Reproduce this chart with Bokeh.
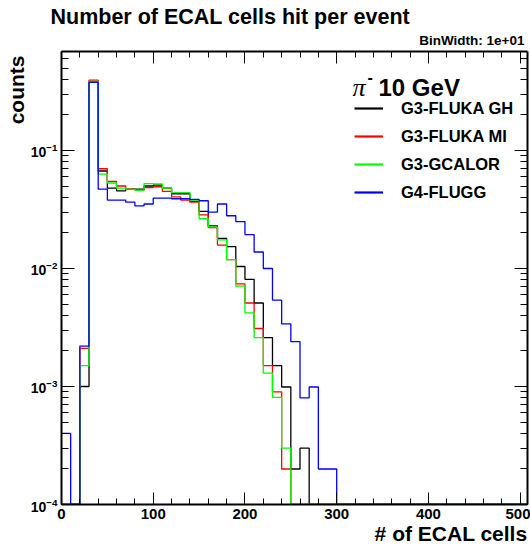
import numpy as np
from bokeh.plotting import figure
from bokeh.models import (Range1d, LinearAxis, LogAxis, SingleIntervalTicker, LogTicker,
                          Label, Legend, LegendItem, CustomJSTickFormatter, Title)
from bokeh.embed import file_html
from bokeh.resources import INLINE

# ---------------- data ----------------
bin_width = 10
bin_low = 0
n_bins = 51

g3_fluka_gh = [0, 0, 0.0010, 0.38, 0.067, 0.048, 0.0455, 0.047, 0.047, 0.050,
               0.051, 0.048, 0.043, 0.043, 0.037, 0.0305, 0.023, 0.018, 0.0153, 0.0104,
               0.0081, 0.0051, 0.0026, 0.0015, 0.00099, 0.0002, 0.0003, 0, 0, 0,
               0, 0, 0, 0, 0, 0, 0, 0, 0, 0,
               0, 0, 0, 0, 0, 0, 0, 0, 0, 0, 0]
g3_fluka_mi = [0, 0, 0.0021, 0.394, 0.070, 0.0547, 0.050, 0.0475, 0.0465, 0.0485,
               0.0493, 0.045, 0.0405, 0.038, 0.0365, 0.0285, 0.0222, 0.0158, 0.0119, 0.0074,
               0.0051, 0.0031, 0.0015, 0.0009, 0.0002, 0, 0, 0, 0, 0,
               0, 0, 0, 0, 0, 0, 0, 0, 0, 0,
               0, 0, 0, 0, 0, 0, 0, 0, 0, 0, 0]
g3_gcalor = [0, 0, 0.0015, 0.385, 0.063, 0.053, 0.048, 0.047, 0.046, 0.0524,
             0.052, 0.048, 0.044, 0.044, 0.038, 0.0264, 0.0225, 0.0175, 0.0119, 0.0071,
             0.0042, 0.0026, 0.0013, 0.00081, 0.0003, 0, 0, 0, 0, 0,
             0, 0, 0, 0, 0, 0, 0, 0, 0, 0,
             0, 0, 0, 0, 0, 0, 0, 0, 0, 0, 0]
g4_flugg = [0.0004, 0, 0.0022, 0.38, 0.047, 0.038, 0.038, 0.0365, 0.034, 0.0352,
            0.0395, 0.0395, 0.039, 0.039, 0.0385, 0.0375, 0.030, 0.0352, 0.028, 0.025,
            0.0194, 0.0138, 0.0100, 0.0054, 0.0034, 0.0024, 0.0008, 0.00099, 0.0002, 0.0002,
            0, 0, 0, 0, 0, 0, 0, 0, 0, 0,
            0, 0, 0, 0, 0, 0, 0, 0, 0, 0, 0]

series_names = ["G3-FLUKA GH", "G3-FLUKA MI", "G3-GCALOR", "G4-FLUGG"]
series_values = [g3_fluka_gh, g3_fluka_mi, g3_gcalor, g4_flugg]
series_colors = ["#000000", "#ff0000", "#00ff00", "#0000ff"]

xtick_values = [0, 100, 200, 300, 400, 500]

title_text = "Number of ECAL cells hit per event"
binwidth_text = "BinWidth: 1e+01"
x_title = "# of ECAL cells"
y_title = "counts"
beam_particle = "\u03c0"
beam_charge = "-"
beam_energy = "10 GeV"

X_MIN, X_MAX = 0, 508
Y_MIN, Y_MAX = 1e-4, 0.69

# ---------------- layout constants ----------------
W, H = 530, 553
FL, FR, FT, FB = 61, 527, 51, 504   # frame edges in canvas pixels
FONT = "Liberation Sans"

p = figure(width=W, height=H, x_range=Range1d(X_MIN, X_MAX), y_range=Range1d(Y_MIN, Y_MAX),
           y_axis_type="log", output_backend="svg", toolbar_location=None, title_location=None,
           min_border_left=FL, min_border_right=W - FR, min_border_top=FT, min_border_bottom=H - FB)
p.grid.visible = False
p.outline_line_color = None
p.background_fill_color = "white"
p.border_fill_color = "white"

# ---------------- histograms ----------------
edges = bin_low + bin_width * np.arange(n_bins + 1)
legend_items = []
for name, vals, col in zip(series_names, series_values, series_colors):
    v = np.maximum(np.asarray(vals, dtype=float), Y_MIN)
    y = np.append(v, v[-1])
    p.step(x=edges, y=y, mode="after", line_color=col, line_width=1.3)
    # legend-only renderer (draws nothing in the plot area)
    key = p.line(x=[np.nan], y=[np.nan], line_color=col, line_width=2.2)
    legend_items.append(LegendItem(label=name, renderers=[key]))

# ---------------- axes ----------------
xt = SingleIntervalTicker(interval=100, num_minor_ticks=5)
yt = LogTicker(num_minor_ticks=10)
blank = CustomJSTickFormatter(code="return '';")

def style_axis(ax, major_in, minor_in, label_size, standoff, hide=False):
    ax.axis_line_width = 2
    ax.axis_line_color = "black"
    ax.major_tick_in = major_in
    ax.major_tick_out = 0
    ax.minor_tick_in = minor_in
    ax.minor_tick_out = 0
    ax.major_tick_line_width = 1
    ax.minor_tick_line_width = 1
    ax.major_label_text_font = FONT
    ax.major_label_text_font_size = label_size
    ax.major_label_text_font_style = "bold"
    ax.major_label_text_color = "black"
    ax.major_label_standoff = standoff
    if hide:
        ax.formatter = blank

xa = p.xaxis[0]
xa.ticker = xt
style_axis(xa, 12, 6, "15px", 4)
ya = p.yaxis[0]
ya.ticker = yt
style_axis(ya, 13, 7, "14px", 4)

top = LinearAxis(ticker=xt)
style_axis(top, 12, 6, "1px", 0, hide=True)
p.add_layout(top, "above")
right = LogAxis(ticker=yt)
style_axis(right, 13, 7, "1px", 0, hide=True)
p.add_layout(right, "right")

# ---------------- titles ----------------
def make_title(text, size, align, offset, valign="bottom", standoff=0):
    return Title(text=text, text_font=FONT, text_font_size=size, text_font_style="bold",
                 text_color="black", align=align, offset=offset, standoff=standoff,
                 vertical_align=valign)

p.add_layout(make_title(binwidth_text, "13.5px", "right", 3, standoff=7), "above")
p.add_layout(make_title(title_text, "21.5px", "left", -11, standoff=-3), "above")
p.add_layout(make_title(x_title, "21px", "right", 0, "top"), "below")
p.add_layout(make_title(y_title, "21px", "right", 4), "left")

# ---------------- legend ----------------
def flabel(cx, cy, text, size, font=FONT, style="bold", baseline="alphabetic"):
    p.add_layout(Label(x=cx - FL, y=FB - cy, x_units="screen", y_units="screen", text=text,
                       text_font=font, text_font_size=f"{size}px", text_font_style=style,
                       text_color="black", text_align="left", text_baseline=baseline))

flabel(352, 87, beam_particle, 26, font="Liberation Serif", style="italic")
flabel(367, 76, beam_charge, 16, baseline="middle")
flabel(378, 87, beam_energy, 24)

legend = Legend(items=legend_items, location=(354 - FL, FB - (94 + 4 * 28)),
                orientation="vertical", glyph_width=29, glyph_height=28, spacing=0,
                padding=0, margin=0, label_standoff=18,
                label_text_font=FONT, label_text_font_size="16.5px",
                label_text_font_style="bold", label_text_baseline="middle",
                label_text_color="black",
                border_line_color=None, background_fill_alpha=0)
p.add_layout(legend)

open("out.html", "w").write(file_html(p, INLINE))
